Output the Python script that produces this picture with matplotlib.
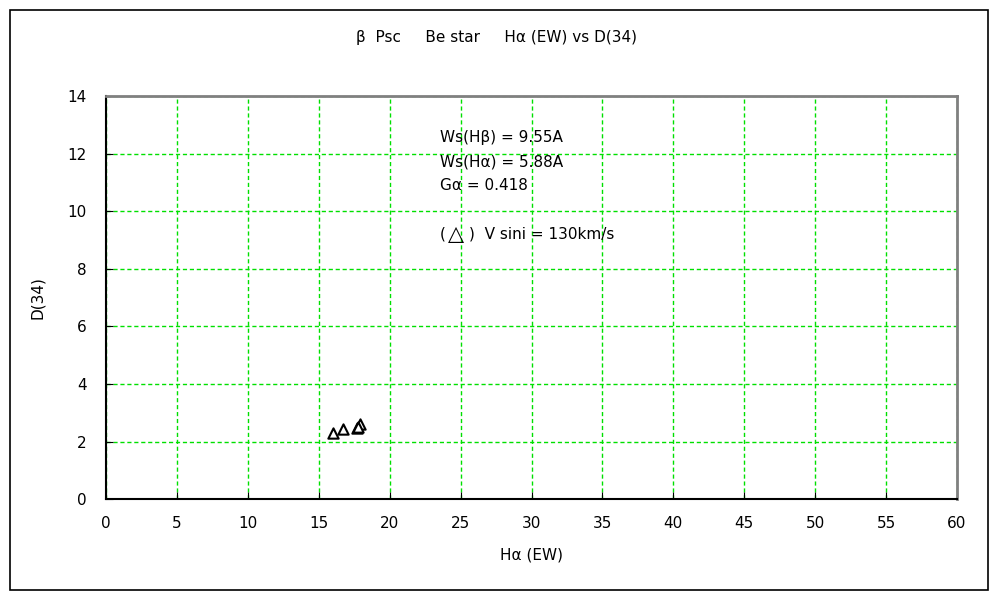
import matplotlib
matplotlib.use("Agg")
import matplotlib.pyplot as plt
from matplotlib.patches import Rectangle

plt.rcParams['font.family'] = ['DejaVu Sans']

title = "β  Psc     Be star     Hα (EW) vs D(34)"
x_label = "Hα (EW)"
y_label = "D(34)"
ha_ew = [16.0, 16.7, 17.7, 17.9, 17.8]
d34 = [2.3, 2.45, 2.47, 2.6, 2.5]
x_ticks = list(range(0, 61, 5))
y_ticks = list(range(0, 15, 2))
notes = ["Ws(Hβ) = 9.55A", "Ws(Hα) = 5.88A", "Gα = 0.418", "", "V sini = 130km/s"]

fig = plt.figure(figsize=(10, 6), dpi=100)
fig.patches.append(Rectangle((0.010, 0.017), 0.978, 0.966, transform=fig.transFigure,
                             fill=False, edgecolor='black', linewidth=1.2))
ax = fig.add_axes([0.106, 0.168, 0.851, 0.672])
ax.set_xlim(0, 60)
ax.set_ylim(0, 14)
ax.set_xticks(x_ticks)
ax.set_yticks(y_ticks)
ax.grid(True, color='#00e000', linestyle=(0, (3, 2)), linewidth=1.0)
ax.tick_params(direction='in', length=5, labelsize=11, color='black')
ax.tick_params(axis='x', pad=12)
ax.tick_params(axis='y', pad=14)
for s in ['left', 'bottom']:
    ax.spines[s].set_color('black')
    ax.spines[s].set_linewidth(1.5)
for s in ['top', 'right']:
    ax.spines[s].set_color('#808080')
    ax.spines[s].set_linewidth(2)

ax.scatter(ha_ew, d34, marker='^', s=55, facecolors='white', edgecolors='black',
           linewidths=1.5, zorder=3)

ax.set_xlabel(x_label, fontsize=11, labelpad=12)
ax.set_ylabel(y_label, fontsize=11, labelpad=16)
fig.text(0.497, 0.937, title, ha='center', va='center', fontsize=11)

for i, t in enumerate(notes):
    if not t:
        continue
    yy = 0.897 - i * 0.060
    if t.startswith("V sini"):
        ax.text(0.392, yy, "(", transform=ax.transAxes, fontsize=11, ha='left', va='center')
        ax.text(0.4115, yy, "△", transform=ax.transAxes, fontsize=15, ha='center', va='center')
        ax.text(0.426, yy, ")  " + t, transform=ax.transAxes, fontsize=11, ha='left', va='center')
    else:
        ax.text(0.392, yy, t, transform=ax.transAxes, fontsize=11, ha='left', va='center')

fig.savefig("out.png", dpi=100)
